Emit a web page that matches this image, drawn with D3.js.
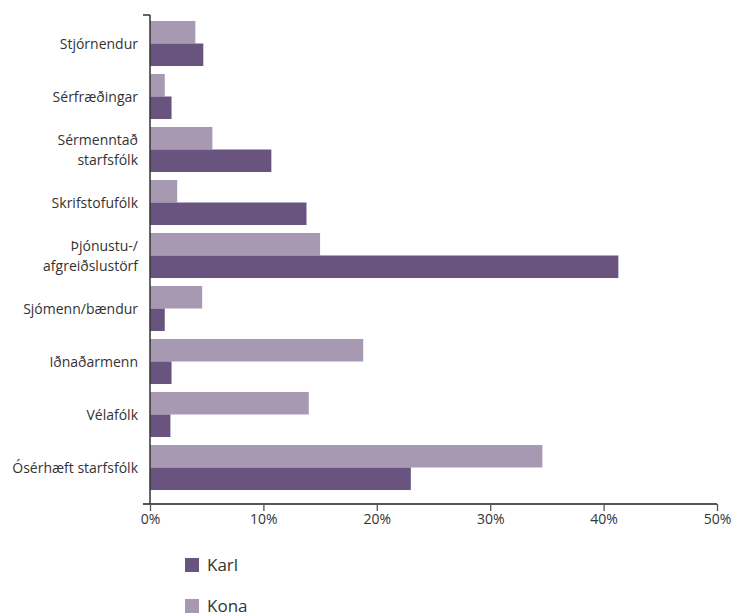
<!DOCTYPE html>
<html>
<head>
<meta charset="utf-8">
<script src="https://cdn.jsdelivr.net/npm/d3@7"></script>
<style>
  body { margin: 0; background: #fff; }
  text { font-family: "Open Sans", "Noto Sans", sans-serif; fill: #333; }
</style>
</head>
<body>
<svg id="drawing_region"></svg>
<script>
// categories, top to bottom (second line after \n)
const categories = ["Stjórnendur", "Sérfræðingar", "Sérmenntað\nstarfsfólk", "Skrifstofufólk",
    "Þjónustu-/\nafgreiðslustörf", "Sjómenn/bændur", "Iðnaðarmenn", "Vélafólk", "Ósérhæft starfsfólk"];
const series = ["Kona", "Karl"];
const kona = [4.0, 1.3, 5.5, 2.4, 15.0, 4.6, 18.8, 14.0, 34.6];
const karl = [4.7, 1.9, 10.7, 13.8, 41.3, 1.3, 1.9, 1.8, 23.0];
const xticks = [0, 10, 20, 30, 40, 50];
const legendItems = ["Karl", "Kona"];

const colors = { Karl: "#68547f", Kona: "#a899b3" };

const data = categories.map((c, i) => ({ label: c, Kona: kona[i], Karl: karl[i] }));

const width = 732, height = 614;
const svg = d3.select('#drawing_region')
    .attr('width', width)
    .attr('height', height);

const margin = { left: 150, right: 717, top: 15, bottom: 504 };

const xscale = d3.scaleLinear()
    .domain([0, 50])
    .range([margin.left, margin.right]);

const yscale = d3.scaleBand()
    .domain(categories)
    .range([17, 494])
    .paddingInner(0.15)
    .paddingOuter(0.075);

const inner = d3.scaleBand()
    .domain(series)
    .range([0, yscale.bandwidth()]);

// bars
const groups = svg.append('g').selectAll('g')
    .data(data).enter()
    .append('g')
    .attr('transform', d => `translate(0, ${yscale(d.label)})`);

groups.selectAll('rect')
    .data(d => series.map(s => ({ key: s, value: d[s] })))
    .enter().append('rect')
    .attr('x', xscale(0))
    .attr('y', d => inner(d.key))
    .attr('width', d => xscale(d.value) - xscale(0))
    .attr('height', inner.bandwidth())
    .attr('fill', d => colors[d.key]);

// x axis
const xaxis = d3.axisBottom(xscale)
    .tickValues(xticks)
    .tickSize(7)
    .tickSizeOuter(0)
    .tickPadding(3)
    .tickFormat(d => d + '%');

const xg = svg.append('g')
    .attr('transform', `translate(0, ${margin.bottom})`)
    .call(xaxis);
xg.select('.domain').remove();
xg.selectAll('line').attr('stroke', '#555').attr('stroke-width', 1.3);
xg.selectAll('text').style('font-size', '14px').attr('fill', '#333');
xg.append('line')
    .attr('x1', margin.left - 7).attr('x2', margin.right)
    .attr('stroke', '#555').attr('stroke-width', 2);

// y axis
const yg = svg.append('g');
yg.append('line')
    .attr('x1', margin.left).attr('x2', margin.left)
    .attr('y1', margin.top).attr('y2', margin.bottom)
    .attr('stroke', '#333').attr('stroke-width', 1.5);
yg.append('line')
    .attr('x1', margin.left - 7).attr('x2', margin.left)
    .attr('y1', margin.top).attr('y2', margin.top)
    .attr('stroke', '#333').attr('stroke-width', 1.5);

// category labels
const labels = svg.append('g').selectAll('text')
    .data(categories).enter()
    .append('text')
    .attr('text-anchor', 'end')
    .style('font-size', '14px')
    .attr('transform', d => `translate(138, ${yscale(d) + yscale.bandwidth() / 2})`);

labels.each(function (d) {
    const lines = d.split('\n');
    const t = d3.select(this);
    lines.forEach((ln, i) => {
        t.append('tspan')
            .attr('x', 0)
            .attr('y', (i - (lines.length - 1) / 2) * 20 + 5)
            .text(ln);
    });
});

// legend
const legend = svg.append('g').selectAll('g')
    .data(legendItems).enter()
    .append('g')
    .attr('transform', (d, i) => `translate(185, ${558 + i * 41})`);

legend.append('rect')
    .attr('width', 14).attr('height', 14)
    .attr('fill', d => colors[d]);

legend.append('text')
    .attr('x', 22).attr('y', 13)
    .style('font-size', '17px')
    .text(d => d);
</script>
</body>
</html>
